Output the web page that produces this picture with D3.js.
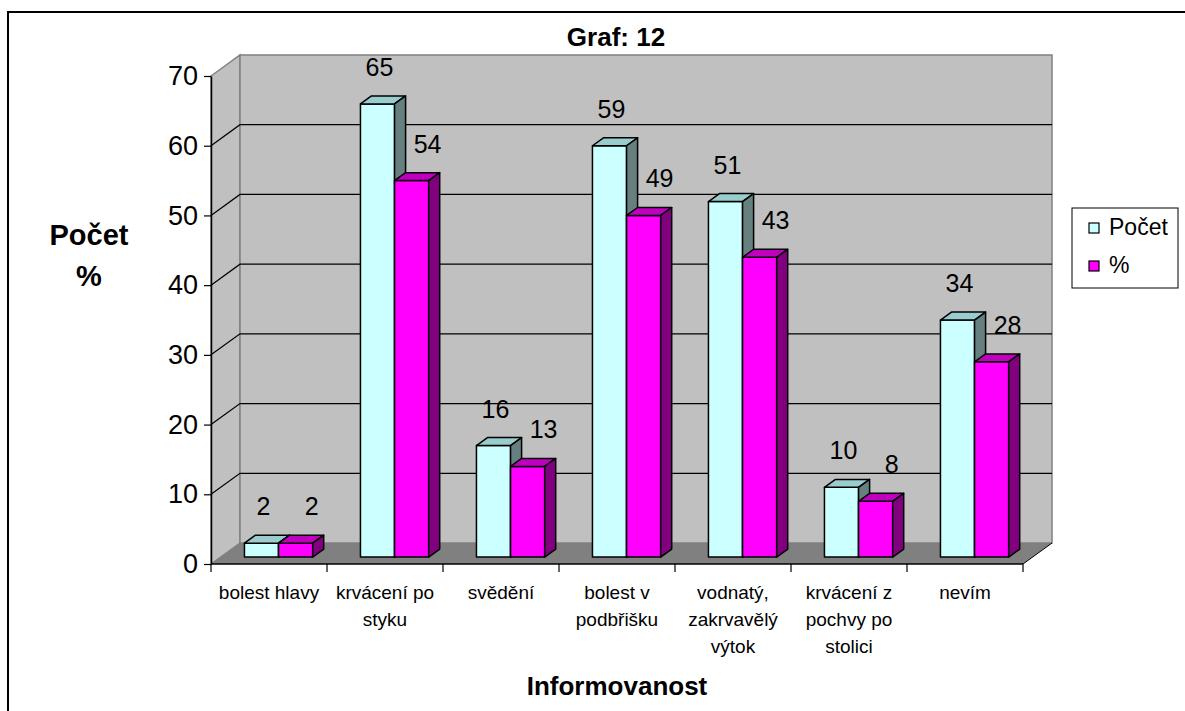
<!DOCTYPE html>
<html>
<head>
<meta charset="utf-8">
<script src="https://cdn.jsdelivr.net/npm/d3@7"></script>
<style>
  body { margin: 0; background: #fff; }
  text { font-family: Arial, "Liberation Sans", sans-serif; fill: #000; }
</style>
</head>
<body>
<svg id="chart"></svg>
<script>
//////////// data ////////////
const categories = [
  "bolest hlavy",
  "krvácení po\nstyku",
  "svědění",
  "bolest v\npodbřišku",
  "vodnatý,\nzakrvavělý\nvýtok",
  "krvácení z\npochvy po\nstolici",
  "nevím"
];
const seriesNames = ["Počet", "%"];
const pocetValues = [2, 65, 16, 59, 51, 10, 34];
const procentValues = [2, 54, 13, 49, 43, 8, 28];
const yTicks = [0, 10, 20, 30, 40, 50, 60, 70];

//////////// layout ////////////
const width = 1185, height = 711;
const plot = { left: 211, right: 1023, top: 76, bottom: 564 };
const depth = { dx: 29, dy: -21 };       // wall depth offset
const barDepth = [0.33, 0.71];          // bars sit between these depth fractions

const colours = {
  wall: "#c0c0c0", floor: "#808080", edge: "#808080",
  "Počet": { front: "#ccffff", top: "#99cccc", side: "#668080" },
  "%": { front: "#ff00ff", top: "#bf00bf", side: "#800080" }
};

const svg = d3.select("#chart").attr("width", width).attr("height", height);

// outer border (runs off page to the right and bottom like the reference)
svg.append("rect").attr("x", 8).attr("y", 12).attr("width", 1200).attr("height", 720)
  .attr("fill", "none").attr("stroke", "#000").attr("stroke-width", 2);

//////////// scales ////////////
const x0 = d3.scaleBand().domain(d3.range(categories.length)).range([plot.left, plot.right]);
const x1 = d3.scaleBand().domain(seriesNames).range([0, x0.bandwidth()]).paddingOuter(0.7);
const y = d3.scaleLinear().domain([0, 70]).range([plot.bottom, plot.top]);

// project a front-plane point back into the depth
const P = (x, yy, d) => [x + d * depth.dx, yy + d * depth.dy];
const poly = pts => pts.map(p => p.join(",")).join(" ");

//////////// walls ////////////
const walls = svg.append("g");
// side wall
walls.append("polygon")
  .attr("points", poly([P(plot.left, y(70), 0), P(plot.left, y(70), 1), P(plot.left, y(0), 1), P(plot.left, y(0), 0)]))
  .attr("fill", colours.wall).attr("stroke", colours.edge).attr("stroke-width", 1.5);
// back wall
walls.append("polygon")
  .attr("points", poly([P(plot.left, y(70), 1), P(plot.right, y(70), 1), P(plot.right, y(0), 1), P(plot.left, y(0), 1)]))
  .attr("fill", colours.wall).attr("stroke", colours.edge).attr("stroke-width", 1.5);
// floor
walls.append("polygon")
  .attr("points", poly([P(plot.left, y(0), 0), P(plot.left, y(0), 1), P(plot.right, y(0), 1), P(plot.right, y(0), 0)]))
  .attr("fill", colours.floor).attr("stroke", "none");
walls.append("line")
  .attr("x1", plot.right).attr("y1", y(0))
  .attr("x2", P(plot.right, y(0), 1)[0]).attr("y2", P(plot.right, y(0), 1)[1])
  .attr("stroke", "#000").attr("stroke-width", 1);

// gridlines: on side wall and back wall
yTicks.filter(t => t > 0 && t < 70).forEach(t => {
  const a = P(plot.left, y(t), 0), b = P(plot.left, y(t), 1), c = P(plot.right, y(t), 1);
  walls.append("polyline").attr("points", poly([a, b, c]))
    .attr("fill", "none").attr("stroke", "#000").attr("stroke-width", 1.2);
});

//////////// axes ////////////
svg.append("g").attr("transform", `translate(${plot.left},0)`)
  .call(d3.axisLeft(y).tickValues(yTicks).tickSize(7).tickPadding(6).tickSizeOuter(0))
  .call(g => g.select(".domain").attr("stroke", "#000").attr("stroke-width", 1.5))
  .call(g => g.selectAll(".tick line").attr("stroke", "#000").attr("stroke-width", 1.2))
  .call(g => g.selectAll(".tick text").attr("font-size", 27).attr("fill", "#000")
    .attr("font-family", "Arial, 'Liberation Sans', sans-serif"));

// category axis (front floor edge)
svg.append("line").attr("x1", plot.left).attr("x2", plot.right)
  .attr("y1", plot.bottom).attr("y2", plot.bottom).attr("stroke", "#000").attr("stroke-width", 1.5);
d3.range(categories.length + 1).forEach(i => {
  const xx = plot.left + i * x0.step();
  svg.append("line").attr("x1", xx).attr("x2", xx).attr("y1", plot.bottom).attr("y2", plot.bottom + 8)
    .attr("stroke", "#000").attr("stroke-width", 1.2);
});
const catLabels = svg.append("g").selectAll("text").data(categories).join("text")
  .attr("x", (d, i) => x0(i) + x0.bandwidth() / 2)
  .attr("y", 599)
  .attr("text-anchor", "middle")
  .attr("font-size", 19);
catLabels.each(function (d) {
  const t = d3.select(this);
  d.split("\n").forEach((line, k) => {
    t.append("tspan").attr("x", t.attr("x")).attr("dy", k === 0 ? 0 : 27).text(line);
  });
});

//////////// bars ////////////
const barData = [];
categories.forEach((c, i) => {
  barData.push({ i, s: "Počet", v: pocetValues[i] });
  barData.push({ i, s: "%", v: procentValues[i] });
});

const bars = svg.append("g");
barData.forEach(d => {
  const xl = x0(d.i) + x1(d.s), xr = xl + x1.bandwidth();
  const yt = y(d.v), yb = y(0);
  const [d0, d1] = barDepth;
  const col = colours[d.s];
  const g = bars.append("g").attr("stroke", "#000").attr("stroke-width", 1.5).attr("stroke-linejoin", "round");
  // front
  g.append("polygon").attr("points", poly([P(xl, yt, d0), P(xr, yt, d0), P(xr, yb, d0), P(xl, yb, d0)]))
    .attr("fill", col.front);
  // top
  g.append("polygon").attr("points", poly([P(xl, yt, d0), P(xl, yt, d1), P(xr, yt, d1), P(xr, yt, d0)]))
    .attr("fill", col.top);
  // side
  g.append("polygon").attr("points", poly([P(xr, yt, d0), P(xr, yt, d1), P(xr, yb, d1), P(xr, yb, d0)]))
    .attr("fill", col.side);
});

// value labels
svg.append("g").selectAll("text").data(barData).join("text")
  .attr("x", d => P(x0(d.i) + x1(d.s) + x1.bandwidth() / 2, 0, barDepth[0])[0] + (d.s === "%" ? 16 : 2))
  .attr("y", d => P(0, y(d.v), barDepth[0])[1] - 28)
  .attr("text-anchor", "middle")
  .attr("font-size", 25)
  .text(d => d.v);

//////////// titles ////////////
svg.append("text").attr("x", 616).attr("y", 46).attr("text-anchor", "middle")
  .attr("font-size", 26).attr("font-weight", "bold").text("Graf: 12");
svg.append("text").attr("x", 617).attr("y", 695).attr("text-anchor", "middle")
  .attr("font-size", 26).attr("font-weight", "bold").text("Informovanost");
svg.append("text").attr("x", 89).attr("y", 245).attr("text-anchor", "middle")
  .attr("font-size", 29).attr("font-weight", "bold").text("Počet");
svg.append("text").attr("x", 89).attr("y", 286).attr("text-anchor", "middle")
  .attr("font-size", 29).attr("font-weight", "bold").text("%");

//////////// legend ////////////
const legend = svg.append("g").attr("transform", "translate(1072,208)");
legend.append("rect").attr("width", 106).attr("height", 80)
  .attr("fill", "#fff").attr("stroke", "#000").attr("stroke-width", 1);
seriesNames.forEach((s, k) => {
  const row = legend.append("g").attr("transform", `translate(17,${15 + k * 38})`);
  row.append("rect").attr("width", 10).attr("height", 10)
    .attr("fill", colours[s].front).attr("stroke", "#000").attr("stroke-width", 1.2);
  row.append("text").attr("x", 20).attr("y", 12).attr("font-size", 23).text(s);
});
</script>
</body>
</html>
